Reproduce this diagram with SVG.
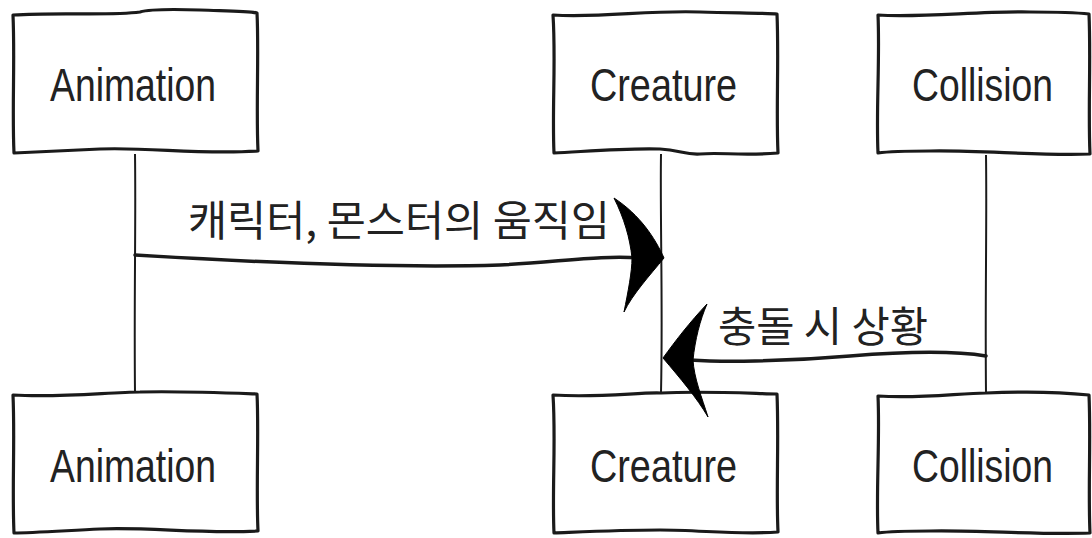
<svg xmlns="http://www.w3.org/2000/svg" width="1092" height="538" viewBox="0 0 1092 538">
  <style>
    .box { fill: #ffffff; stroke: #1a1a1a; stroke-width: 3.2; stroke-linejoin: round; }
    .life { fill: none; stroke: #1a1a1a; stroke-width: 2; }
    .msg { fill: none; stroke: #1a1a1a; stroke-width: 3.5; stroke-linecap: round; }
    .head { fill: #000000; stroke: #000000; stroke-width: 1; stroke-linejoin: round; }
    .name { font-family: "Liberation Sans", Arial, sans-serif; font-size: 46px; fill: #222222; }
    .lbl { font-family: "Noto Sans CJK KR", "Noto Sans", sans-serif; font-size: 42px; fill: #222222; }
  </style>
  <rect width="1092" height="538" fill="#ffffff"/>

  <!-- participants, top row -->
  <g id="animation-top">
    <path class="box" d="M13,15 C60,12 110,16 140,12 C150,9 170,9 200,10 C230,11 250,11 257,13 C259,50 256,110 258,151 C200,155 150,147 100,149 C60,151 30,152 14,153 C12,110 15,60 13,15 Z"/>
    <text class="name" x="50" y="101" textLength="166" lengthAdjust="spacingAndGlyphs">Animation</text>
  </g>
  <g id="creature-top">
    <path class="box" d="M553,15 C600,18 650,10 700,12 C740,13 770,13 777,14 C779,60 776,110 778,153 C740,156 720,152 700,154 C685,155 680,150 660,149 C620,148 580,152 554,153 C552,110 556,60 553,15 Z"/>
    <text class="name" x="590" y="101" textLength="147" lengthAdjust="spacingAndGlyphs">Creature</text>
  </g>
  <g id="collision-top">
    <path class="box" d="M878,15 C920,18 980,11 1030,12 C1060,12 1080,13 1089,14 C1091,60 1088,110 1090,154 C1040,156 980,150 930,151 C900,151 885,152 878,153 C876,110 880,60 878,15 Z"/>
    <text class="name" x="912" y="101" textLength="141" lengthAdjust="spacingAndGlyphs">Collision</text>
  </g>

  <!-- participants, bottom row -->
  <g id="animation-bottom">
    <path class="box" d="M13,395 C60,398 110,392 140,392 C180,391 230,393 257,394 C259,430 256,490 258,531 C200,534 150,527 100,529 C60,531 30,533 14,533 C12,490 15,440 13,395 Z"/>
    <text class="name" x="50" y="482" textLength="166" lengthAdjust="spacingAndGlyphs">Animation</text>
  </g>
  <g id="creature-bottom">
    <path class="box" d="M553,395 C600,398 640,392 661,393 C700,391 740,393 777,394 C779,440 776,490 778,532 C740,535 700,530 660,530 C620,530 580,532 554,533 C552,490 556,440 553,395 Z"/>
    <text class="name" x="590" y="482" textLength="147" lengthAdjust="spacingAndGlyphs">Creature</text>
  </g>
  <g id="collision-bottom">
    <path class="box" d="M878,396 C920,399 960,393 986,393 C1030,391 1070,393 1089,395 C1091,440 1088,490 1090,533 C1040,535 980,530 930,531 C900,531 885,532 878,533 C876,490 880,440 878,396 Z"/>
    <text class="name" x="912" y="482" textLength="141" lengthAdjust="spacingAndGlyphs">Collision</text>
  </g>

  <!-- lifelines and messages -->
  <g id="connectors">
    <path class="life" d="M135,154 C136,220 134,300 135,393"/>
    <path class="life" d="M661,154 C660,220 663,300 661,393"/>
    <path class="life" d="M986,155 C987,220 985,300 986,393"/>

    <path class="msg" d="M135,255 C250,262 400,268 500,265 C560,262 600,255 640,258"/>
    <path class="head" d="M614,198 C640,215 655,238 664,258 C650,275 632,295 624,312 C628,292 632,272 632,258 C630,238 624,218 614,198 Z"/>
    <text class="lbl" x="188" y="236" textLength="422" lengthAdjust="spacingAndGlyphs">캐릭터, 몬스터의 움직임</text>

    <path class="msg" d="M986,356 C950,350 900,352 850,356 C780,362 720,362 690,360"/>
    <path class="head" d="M707,304 C690,322 676,340 663,358 C680,378 697,398 708,417 C702,398 694,378 693,360 C695,340 700,320 707,304 Z"/>
    <text class="lbl" x="718" y="342" textLength="210" lengthAdjust="spacingAndGlyphs">충돌 시 상황</text>
  </g>
</svg>
